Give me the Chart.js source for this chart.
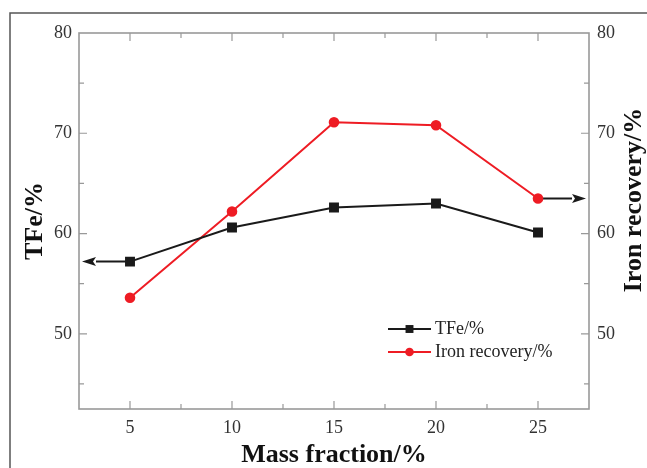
<!DOCTYPE html>
<html>
<head>
<meta charset="utf-8">
<script src="https://cdn.jsdelivr.net/npm/chart.js@4.4.1/dist/chart.umd.min.js"></script>
<style>
  body { margin: 0; background: #fff; }
  #wrap { width: 647px; height: 468px; }
</style>
</head>
<body>
<div id="wrap"><canvas id="myChart" width="647" height="468"></canvas></div>
<script>
// data
const massFraction = [5, 10, 15, 20, 25];
const tfe = [57.2, 60.6, 62.6, 63.0, 60.1];
const ironRecovery = [53.6, 62.2, 71.1, 70.8, 63.5];
const seriesNames = ["TFe/%", "Iron recovery/%"];
const rightTitle = "Iron recovery/%";
// arrows: which series, which point, and the axis value they point to
const arrowSeries = [0, 1];
const arrowPoint = [0, 4];
const arrowTarget = [2.5, 27.5];

const serif = "'Liberation Serif', 'Times New Roman', serif";

function toPoints(ys) {
  return massFraction.map((x, i) => ({ x: x, y: ys[i] }));
}

const data = {
  datasets: [
    {
      label: seriesNames[0],
      data: toPoints(tfe),
      yAxisID: "y",
      borderColor: "#1a1a1a",
      backgroundColor: "#1a1a1a",
      borderWidth: 2,
      pointStyle: "rect",
      pointRadius: 5.6,
      showLine: true,
    },
    {
      label: seriesNames[1],
      data: toPoints(ironRecovery),
      yAxisID: "y1",
      borderColor: "#ee1c24",
      backgroundColor: "#ee1c24",
      borderWidth: 2,
      pointStyle: "circle",
      pointRadius: 4.3,
      showLine: true,
    },
  ],
};

// frame, inward ticks, outer border
const decor = {
  id: "decor",
  beforeDatasetsDraw(chart) {
    const { ctx, chartArea: a, scales } = chart;
    ctx.save();
    // outer border (cropped box)
    ctx.strokeStyle = "#555";
    ctx.lineWidth = 1.5;
    ctx.beginPath();
    ctx.moveTo(10, 468);
    ctx.lineTo(10, 13);
    ctx.lineTo(647, 13);
    ctx.stroke();

    // plot frame
    ctx.strokeStyle = "#999";
    ctx.lineWidth = 1.6;
    ctx.strokeRect(a.left, a.top, a.right - a.left, a.bottom - a.top);

    // x ticks on bottom and top
    ctx.lineWidth = 1.2;
    scales.x.ticks.forEach((t) => {
      if (t.value <= scales.x.min || t.value >= scales.x.max) return;
      const px = scales.x.getPixelForValue(t.value);
      const len = t.value % 5 === 0 ? 8 : 5;
      ctx.beginPath();
      ctx.moveTo(px, a.bottom);
      ctx.lineTo(px, a.bottom - len);
      ctx.moveTo(px, a.top);
      ctx.lineTo(px, a.top + len);
      ctx.stroke();
    });
    // y ticks on left and right
    scales.y.ticks.forEach((t) => {
      if (t.value % 5 !== 0 || t.value >= scales.y.max) return;
      const py = scales.y.getPixelForValue(t.value);
      const len = t.value % 10 === 0 ? 8 : 5;
      ctx.beginPath();
      ctx.moveTo(a.left, py);
      ctx.lineTo(a.left + len, py);
      ctx.moveTo(a.right, py);
      ctx.lineTo(a.right - len, py);
      ctx.stroke();
    });

    // arrows pointing to each series' axis
    ctx.strokeStyle = "#1a1a1a";
    ctx.fillStyle = "#1a1a1a";
    ctx.lineWidth = 2;
    arrowSeries.forEach((s, k) => {
      const ds = chart.data.datasets[s];
      const yScale = scales[ds.yAxisID];
      const p = ds.data[arrowPoint[k]];
      const x0 = scales.x.getPixelForValue(p.x);
      const y0 = yScale.getPixelForValue(p.y);
      const dir = arrowTarget[k] < p.x ? -1 : 1;
      const x1 = scales.x.getPixelForValue(arrowTarget[k]) - dir * 3;
      const head = 14;
      ctx.beginPath();
      ctx.moveTo(x0, y0);
      ctx.lineTo(x1 - dir * head, y0);
      ctx.stroke();
      ctx.beginPath();
      ctx.moveTo(x1, y0);
      ctx.lineTo(x1 - dir * head, y0 - 4.5);
      ctx.lineTo(x1 - dir * (head - 3), y0);
      ctx.lineTo(x1 - dir * head, y0 + 4.5);
      ctx.closePath();
      ctx.fill();
    });
    ctx.restore();
  },
  afterDraw(chart) {
    const { ctx } = chart;
    ctx.save();
    // legend inside the plot
    const lx = 388, ly = 329, gap = 23;
    chart.data.datasets.forEach((ds, i) => {
      const y = ly + i * gap;
      ctx.strokeStyle = ds.borderColor;
      ctx.fillStyle = ds.backgroundColor;
      ctx.lineWidth = 2;
      ctx.beginPath();
      ctx.moveTo(lx, y);
      ctx.lineTo(lx + 43, y);
      ctx.stroke();
      Chart.helpers.drawPoint(ctx, { pointStyle: ds.pointStyle, radius: ds.pointRadius, borderWidth: 0 }, lx + 21.5, y);
      ctx.fillStyle = "#222";
      ctx.font = "18px " + serif;
      ctx.textBaseline = "middle";
      ctx.fillText(ds.label, lx + 47, y);
    });
    // right axis title reads bottom to top
    ctx.translate(634, 200);
    ctx.rotate(-Math.PI / 2);
    ctx.font = "bold 26px " + serif;
    ctx.fillStyle = "#111";
    ctx.textAlign = "center";
    ctx.textBaseline = "middle";
    ctx.fillText(rightTitle, 0, 0);
    ctx.restore();
  },
};

const tickFont = { family: serif, size: 18 };
const titleFont = { family: serif, size: 26, weight: "bold", lineHeight: 1 };

const options = {
  responsive: false,
  animation: false,
  layout: { padding: { top: 33, left: 0, right: 0, bottom: 0 } },
  plugins: {
    legend: { display: false },
    tooltip: { enabled: false },
  },
  scales: {
    x: {
      type: "linear",
      min: 2.5,
      max: 27.5,
      grid: { display: false, drawTicks: false },
      border: { display: false },
      ticks: {
        stepSize: 2.5,
        autoSkip: false,
        maxRotation: 0,
        padding: 8,
        color: "#333",
        font: tickFont,
        callback: (v) => (v % 5 === 0 ? v : ""),
      },
      title: {
        display: true,
        text: "Mass fraction/%",
        color: "#111",
        font: titleFont,
        padding: { top: 0, bottom: 0 },
      },
      afterFit: (s) => { s.height = 59; },
    },
    y: {
      position: "left",
      min: 42.5,
      max: 80,
      grid: { display: false, drawTicks: false },
      border: { display: false },
      ticks: {
        stepSize: 5,
        padding: 7,
        color: "#333",
        font: tickFont,
        callback: (v) => (v % 10 === 0 ? v : ""),
      },
      title: {
        display: true,
        text: "TFe/%",
        color: "#111",
        font: titleFont,
        padding: { top: 22.5, bottom: 0 },
      },
      afterFit: (s) => { s.width = 79; },
    },
    y1: {
      position: "right",
      min: 42.5,
      max: 80,
      grid: { display: false, drawTicks: false },
      border: { display: false },
      ticks: {
        stepSize: 5,
        padding: 8,
        color: "#333",
        font: tickFont,
        callback: (v) => (v % 10 === 0 ? v : ""),
      },
      afterFit: (s) => { s.width = 58; },
    },
  },
};

const ctx = document.getElementById("myChart").getContext("2d");
let myChart = new Chart(ctx, {
  type: "scatter",
  data,
  options,
  plugins: [decor],
});
</script>
</body>
</html>
